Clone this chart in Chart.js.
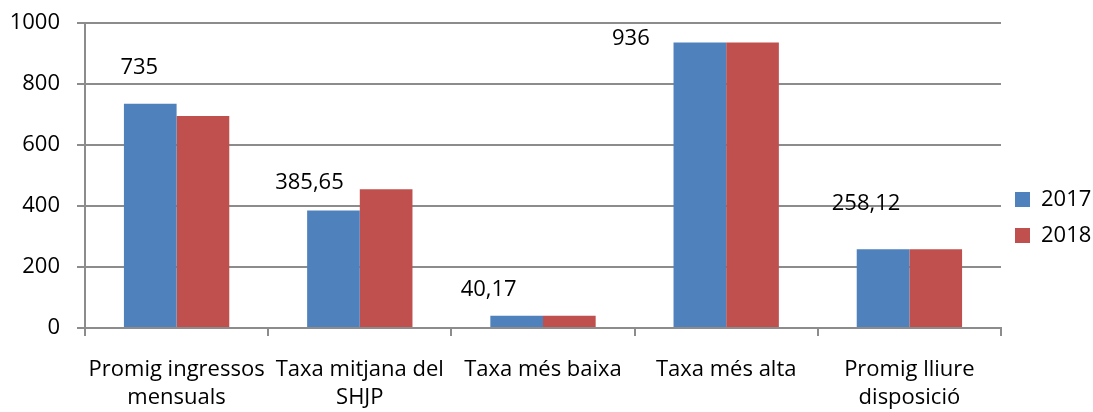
<!DOCTYPE html>
<html>
<head>
<meta charset="utf-8">
<script src="https://cdn.jsdelivr.net/npm/chart.js@4"></script>
<style>
  html, body { margin: 0; padding: 0; background: #fff; }
  #wrap { width: 1093px; height: 412px; }
</style>
</head>
<body>
<div id="wrap"><canvas id="chart"></canvas></div>
<script>
"use strict";

const categories = [
  ["Promig ingressos", "mensuals"],
  ["Taxa mitjana del", "SHJP"],
  "Taxa més baixa",
  "Taxa més alta",
  ["Promig lliure", "disposició"],
];
const values2017 = [735, 385.65, 40.17, 936, 258.12];
const values2018 = [695, 455, 40.17, 936, 258.12];
const labels2017 = ["735", "385,65", "40,17", "936", "258,12"];
const yTicks = [0, 200, 400, 600, 800, 1000];

// label offsets from the top centre of the 2017 bar
const labelShift = [[-11, -36], [-24, -28], [-28, -26], [-69, -4], [-17, -46]];

const fontName = "'Open Sans', sans-serif";
const gridColor = "#8c8c8c";

const valueLabels = {
  id: "valueLabels",
  afterInit(chart) {
    // fixed legend width so the plot ends where the reference does
    const legend = chart.legend;
    const fit = legend.fit;
    legend.fit = function () {
      fit.call(this);
      this.width = 92;
    };
  },
  afterDatasetsDraw(chart) {
    const ctx = chart.ctx;
    const meta = chart.getDatasetMeta(0);
    ctx.save();
    ctx.font = "22px " + fontName;
    ctx.fillStyle = "#000";
    ctx.textAlign = "center";
    ctx.textBaseline = "middle";
    meta.data.forEach(function (bar, i) {
      ctx.fillText(labels2017[i], bar.x + labelShift[i][0], bar.y + labelShift[i][1]);
    });
    ctx.restore();
  },
};

const ctx = document.getElementById("chart").getContext("2d");

const chart = new Chart(ctx, {
  type: "bar",
  data: {
    labels: categories,
    datasets: [
      {
        label: "2017",
        data: values2017,
        backgroundColor: "#4f81bd",
        borderColor: "#4f81bd",
        borderWidth: 0,
      },
      {
        label: "2018",
        data: values2018,
        backgroundColor: "#c0504d",
        borderColor: "#c0504d",
        borderWidth: 0,
      },
    ],
  },
  options: {
    responsive: true,
    maintainAspectRatio: false,
    animation: false,
    layout: { padding: { top: 23, right: 0, left: 0, bottom: 0 } },
    datasets: {
      bar: { categoryPercentage: 0.575, barPercentage: 1 },
    },
    plugins: {
      tooltip: { enabled: false },
      legend: {
        position: "right",
        align: "center",
        labels: {
          boxWidth: 15,
          boxHeight: 15,
          padding: 14,
          color: "#000",
          font: { family: fontName, size: 22 },
        },
      },
    },
    scales: {
      x: {
        grid: {
          display: true,
          drawOnChartArea: false,
          offset: true,
          color: gridColor,
          lineWidth: 2,
          tickLength: 8,
        },
        border: { color: gridColor, width: 2 },
        ticks: {
          color: "#000",
          maxRotation: 0,
          autoSkip: false,
          padding: 20,
          font: { family: fontName, size: 22, lineHeight: 1.25 },
        },
        afterFit(scale) {
          scale.height = 84;
        },
      },
      y: {
        min: 0,
        max: 1000,
        afterBuildTicks(scale) {
          scale.ticks = yTicks.map(function (v) { return { value: v }; });
        },
        grid: {
          color: gridColor,
          lineWidth: 2,
          tickLength: 8,
        },
        border: { color: gridColor, width: 2 },
        ticks: {
          color: "#000",
          padding: 17,
          font: { family: fontName, size: 22 },
          callback: function (value) { return String(value); },
        },
        afterFit(scale) {
          scale.width = 85;
          scale.paddingTop = 0;
          scale.paddingBottom = 0;
        },
      },
    },
  },
  plugins: [valueLabels],
});
</script>
</body>
</html>
